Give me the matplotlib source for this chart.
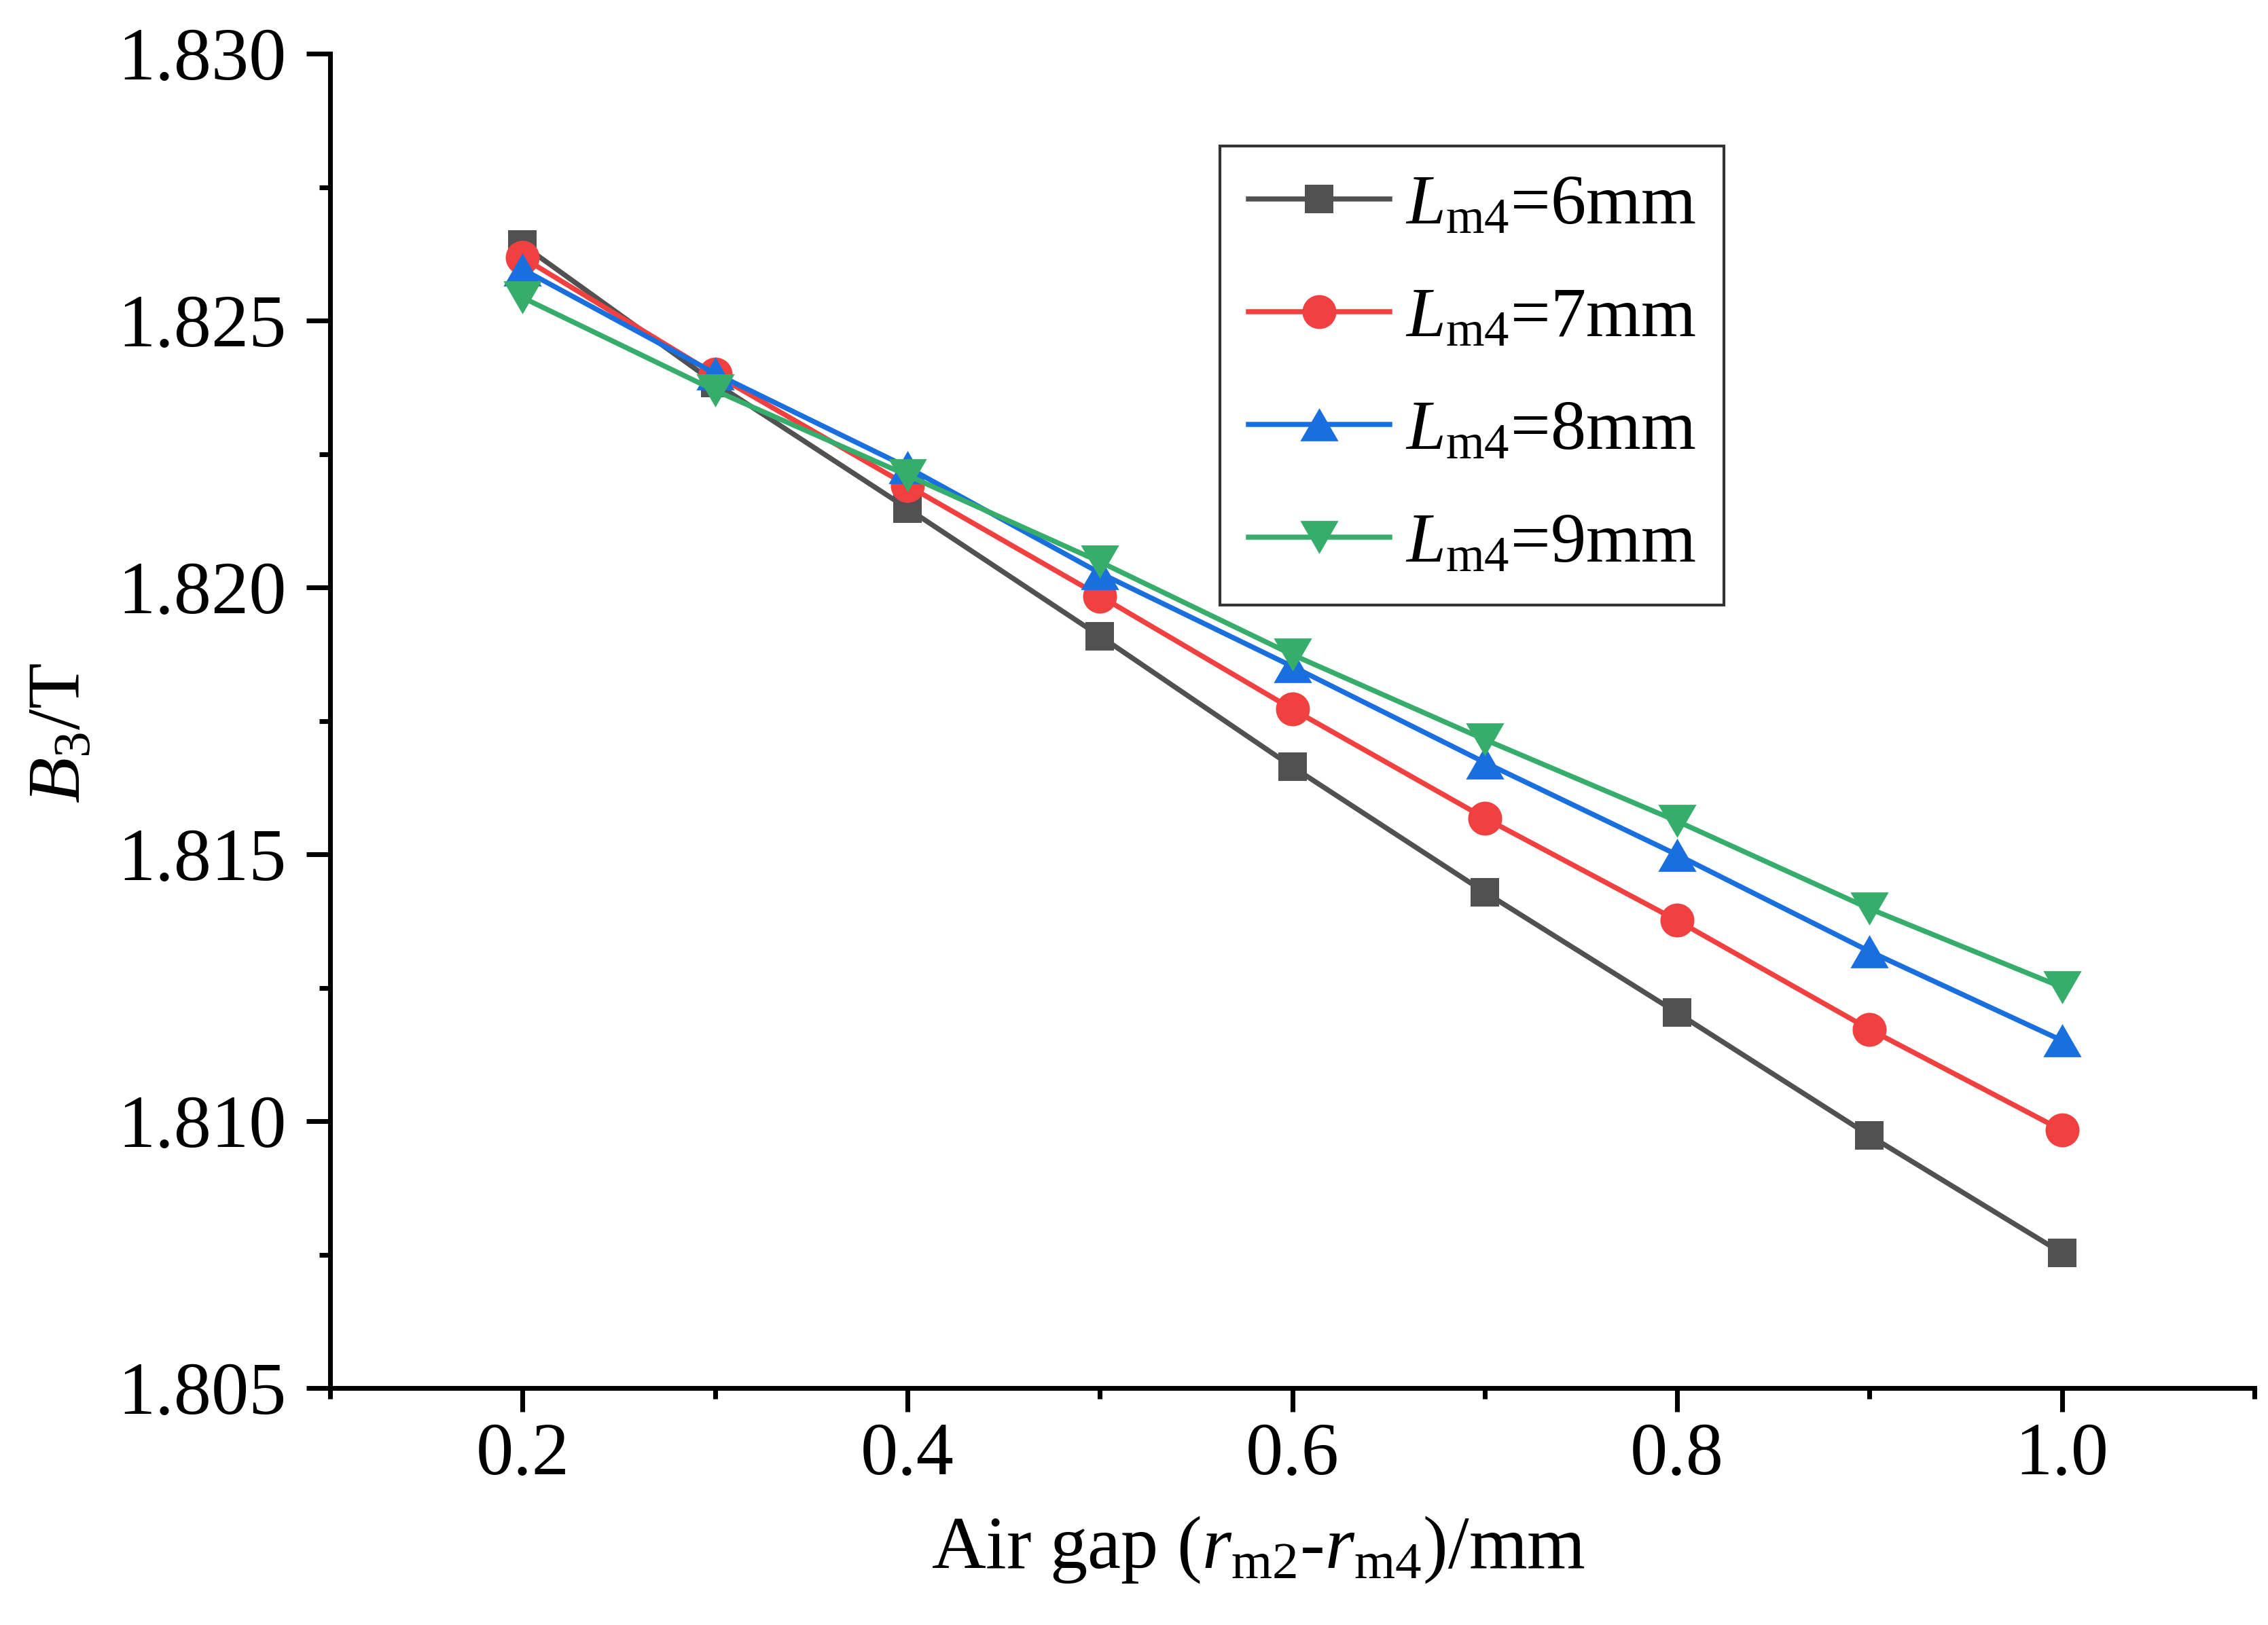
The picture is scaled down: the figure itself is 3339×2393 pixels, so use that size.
import numpy as np
import matplotlib
matplotlib.use("Agg")
import matplotlib.pyplot as plt
from matplotlib.path import Path
from matplotlib.ticker import MultipleLocator, FormatStrFormatter

plt.rcParams['font.family'] = ['Liberation Serif', 'DejaVu Serif']
plt.rcParams['mathtext.fontset'] = 'custom'
plt.rcParams['mathtext.rm'] = 'Liberation Serif'
plt.rcParams['mathtext.it'] = 'Liberation Serif:italic'

# air gap (mm) and B3 (T) for each magnet length
gap = [0.2, 0.3, 0.4, 0.5, 0.6, 0.7, 0.8, 0.9, 1.0]
b_6mm = [1.82642, 1.82383, 1.82148, 1.81909, 1.81664, 1.81429, 1.81203, 1.80973, 1.80753]
b_7mm = [1.82618, 1.82399, 1.82191, 1.81984, 1.81772, 1.81568, 1.81376, 1.81172, 1.80983]
b_8mm = [1.82596, 1.82401, 1.82225, 1.82027, 1.81852, 1.81672, 1.81499, 1.81318, 1.81151]
b_9mm = [1.82543, 1.82369, 1.82210, 1.82048, 1.81874, 1.81715, 1.81562, 1.81398, 1.81251]
labels = [r'$\mathit{L}_{\rm m4}$=6mm', r'$\mathit{L}_{\rm m4}$=7mm',
          r'$\mathit{L}_{\rm m4}$=8mm', r'$\mathit{L}_{\rm m4}$=9mm']

# origin-like triangles (wider than tall)
tri_up = Path([(-1, -0.866), (1, -0.866), (0, 0.866), (-1, -0.866)],
              [Path.MOVETO, Path.LINETO, Path.LINETO, Path.CLOSEPOLY])
tri_dn = Path([(-1, 0.866), (1, 0.866), (0, -0.866), (-1, 0.866)],
              [Path.MOVETO, Path.LINETO, Path.LINETO, Path.CLOSEPOLY])

styles = [
    (b_6mm, '#515151', 's', 10.2),
    (b_7mm, '#F14040', 'o', 12.0),
    (b_8mm, '#1A6FDF', tri_up, 13.5),
    (b_9mm, '#37AD6B', tri_dn, 13.5),
]

fs = 26.5

fig = plt.figure(figsize=(3339 / 300, 2393 / 300), dpi=300)
ax = fig.add_axes([486 / 3339, 1 - 2044 / 2393, 2833 / 3339, 1965 / 2393])

for (vals, col, mk, ms), lab in zip(styles, labels):
    ax.plot(gap, vals, color=col, lw=1.8, marker=mk, markersize=ms,
            markeredgewidth=0, label=lab)

ax.set_xlim(0.1, 1.1)
ax.set_ylim(1.805, 1.830)
ax.xaxis.set_major_locator(MultipleLocator(0.2))
ax.xaxis.set_minor_locator(MultipleLocator(0.1))
ax.yaxis.set_major_locator(MultipleLocator(0.005))
ax.yaxis.set_minor_locator(MultipleLocator(0.0025))
ax.xaxis.set_major_formatter(FormatStrFormatter('%.1f'))
ax.yaxis.set_major_formatter(FormatStrFormatter('%.3f'))

for s in ['top', 'right']:
    ax.spines[s].set_visible(False)
for s in ['left', 'bottom']:
    ax.spines[s].set_linewidth(1.7)
ax.tick_params(which='major', direction='out', length=8.5, width=1.7, labelsize=fs)
ax.tick_params(which='minor', direction='out', length=3.8, width=1.7)
ax.tick_params(axis='x', which='major', pad=3.6)
ax.tick_params(axis='y', which='major', pad=7)

ax.set_xlabel(r'Air gap ($\mathit{r}_{\rm m2}$-$\mathit{r}_{\rm m4}$)/mm', fontsize=fs)
ax.set_ylabel(r'$\mathit{B}_{3}$/T', fontsize=fs)
ax.xaxis.set_label_coords(0.4825, -0.0946)
ax.yaxis.set_label_coords(-0.122, 0.491)

leg = ax.legend(loc='upper left', bbox_to_anchor=(0.4624, 0.9306), borderaxespad=0,
                fontsize=25, frameon=True, fancybox=False, edgecolor='black',
                handlelength=2.0, handletextpad=0.22, labelspacing=0.68,
                borderpad=0.4)
leg.get_frame().set_linewidth(1.0)

fig.savefig('out.png', dpi=300)
